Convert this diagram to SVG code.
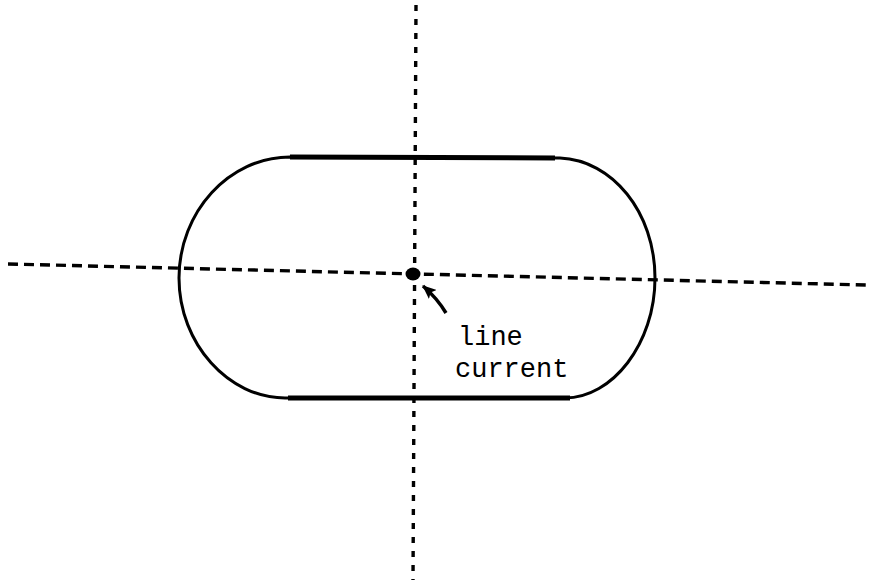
<svg xmlns="http://www.w3.org/2000/svg" width="869" height="584" viewBox="0 0 869 584">
<style>
.ax{fill:none;stroke:#000;stroke-width:3.4}
.h{stroke-dasharray:10 6}
.v{stroke-dasharray:6 8}
.out{fill:none;stroke:#000;stroke-width:3}
.flat{fill:none;stroke:#000;stroke-width:5}
.lbl{font-family:"Liberation Mono","DejaVu Sans Mono",monospace;font-size:27px;fill:#000}
</style>
<defs>
<marker id="ah" viewBox="0 0 14 12" refX="13" refY="6" markerWidth="14" markerHeight="12" markerUnits="userSpaceOnUse" orient="auto">
<path d="M0 0 L14 6 L0 12 L3 6 Z" fill="#000"/>
</marker>
</defs>
<rect width="869" height="584" fill="#fff"/>
<g id="axes">
<line class="ax h" x1="8" y1="264" x2="866" y2="285"/>
<line class="ax v" x1="416" y1="5" x2="413" y2="580"/>
</g>
<g id="conductor">
<path class="out" d="M290 157 L560 158 C612 160 655 212 655 278 C655 344 612 398 565 398 L285 398 C229 398 179 344 179 278 C179 212 229 157 290 157 Z"/>
<line class="flat" x1="290" y1="157" x2="555" y2="158"/>
<line class="flat" x1="288" y1="398" x2="570" y2="398"/>
</g>
<g id="line-current">
<ellipse cx="413" cy="274" rx="7.5" ry="6.5" fill="#000"/>
</g>
<g id="label">
<text class="lbl" x="458" y="345">line</text>
<text class="lbl" x="455" y="377">current</text>
</g>
<g id="connectors">
<path d="M446 313 Q437 298 423 286" fill="none" stroke="#000" stroke-width="3.5" marker-end="url(#ah)"/>
</g>
</svg>
